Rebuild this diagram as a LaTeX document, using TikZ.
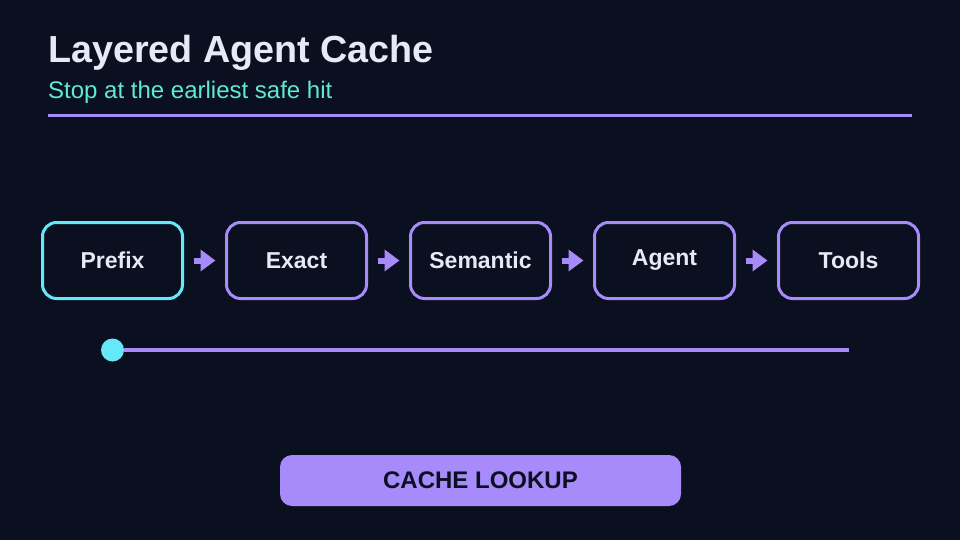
\documentclass[tikz,border=0pt]{standalone}
\usepackage{fontspec}
\setmainfont{Liberation Sans}
\usetikzlibrary{arrows.meta}
\definecolor{bg}{HTML}{0B1020}
\definecolor{ink}{HTML}{E6EAF6}
\definecolor{teal}{HTML}{5EEAD4}
\definecolor{cyanc}{HTML}{67E8F9}
\definecolor{purp}{HTML}{A78BFA}
\tikzset{
  stagebox/.style={draw=purp, line width=3pt, rounded corners=14pt, minimum width=140pt, minimum height=76pt, inner sep=0pt, text=ink, font=\fontsize{23}{28}\selectfont\bfseries},
  firstbox/.style={stagebox, draw=cyanc},
  flow/.style={draw=purp, line width=6pt, -{Triangle[length=15pt,width=21pt]}},
}
\begin{document}
\begin{tikzpicture}[x=1pt,y=-1pt]
\fill[bg] (0,0) rectangle (960,540);
\useasboundingbox (0,0) rectangle (960,540);
\node[anchor=base west, inner sep=0pt, text=ink, font=\fontsize{37.7}{44}\selectfont\bfseries] (title) at (48,63) {Layered Agent Cache};
\node[anchor=base west, inner sep=0pt, text=teal, font=\fontsize{24}{29}\selectfont] (sub) at (48,99) {Stop at the earliest safe hit};
\coordinate (r1) at (48,116);
\coordinate (r2) at (912,116);
\draw[purp, line width=3pt] (r1) -- (r2);
\node[firstbox] (p) at (112.5,260.5) {Prefix};
\node[stagebox] (e) at (296.5,260.5) {Exact};
\node[stagebox] (s) at (480.5,260.5) {Semantic};
\node[stagebox] (a) at (664.5,260.5) {Agent};
\node[stagebox] (t) at (848.5,260.5) {Tools};
\draw[flow] ([xshift=9.5pt]p.east) -- ([xshift=-9.5pt]e.west);
\draw[flow] ([xshift=9.5pt]e.east) -- ([xshift=-9.5pt]s.west);
\draw[flow] ([xshift=9.5pt]s.east) -- ([xshift=-9.5pt]a.west);
\draw[flow] ([xshift=9.5pt]a.east) -- ([xshift=-9.5pt]t.west);
\coordinate (lend) at (849,350);
\node[circle, fill=cyanc, minimum size=23pt, inner sep=0pt] (dot) at (112.5,350) {};
\draw[purp, line width=4.5pt] (dot.east) -- (lend);
\node[fill=purp, rounded corners=12pt, minimum width=401pt, minimum height=51pt, inner sep=0pt, text=bg, font=\fontsize{24}{29}\selectfont\bfseries] (btn) at (480.5,480.5) {CACHE LOOKUP};
\end{tikzpicture}
\end{document}
